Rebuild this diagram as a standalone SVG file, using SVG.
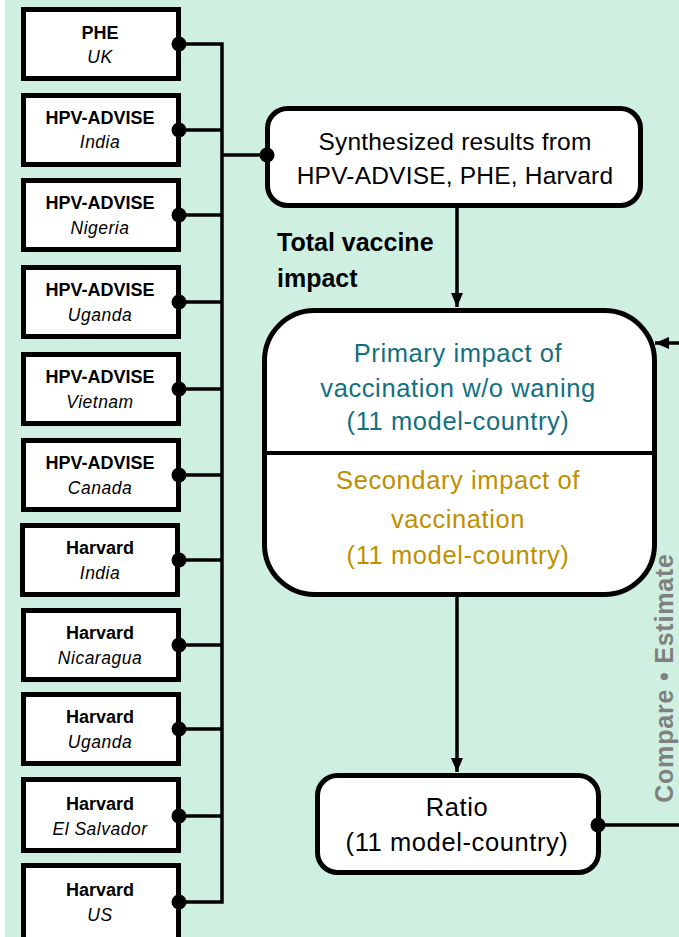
<svg xmlns="http://www.w3.org/2000/svg" width="679" height="937" viewBox="0 0 679 937">
<defs>
<style>
.bg{fill:#CFF0E0}
.src{fill:#fff;stroke:#000;stroke-width:5}
.node{fill:#fff;stroke:#000;stroke-width:5}
.con{fill:none;stroke:#000;stroke-width:3.5}
.dot{fill:#000}
.b{font-family:"Liberation Sans",Arial,sans-serif;font-weight:bold;font-size:18px;text-anchor:middle;fill:#000}
.i{font-family:"Liberation Sans",Arial,sans-serif;font-style:italic;font-size:17.5px;letter-spacing:0.5px;text-anchor:middle;fill:#000}
.t{font-family:"Liberation Sans",Arial,sans-serif;font-size:24.5px;letter-spacing:0.2px;text-anchor:middle;fill:#000}
.w{font-size:25.5px;letter-spacing:0.6px}
.teal{fill:#13707F}
.gold{fill:#BF8F00}
.lab{font-family:"Liberation Sans",Arial,sans-serif;font-weight:bold;font-size:25px;fill:#000}
.side{font-family:"Liberation Sans",Arial,sans-serif;font-weight:bold;font-size:25px;letter-spacing:0.8px;fill:#808080;text-anchor:middle}
</style>
<marker id="ah" markerWidth="14" markerHeight="12" refX="14" refY="6" orient="auto" markerUnits="userSpaceOnUse">
<path d="M0,0 L14,6 L0,12 Z" fill="#000"/>
</marker>
</defs>
<rect class="bg" x="5" y="0" width="674" height="937"/>

<g id="n-phe-uk"><rect class="src" x="23.5" y="9.5" width="155" height="69"/><text class="b" x="100" y="39">PHE</text><text class="i" x="100" y="63">UK</text></g>
<g id="n-hpv-india"><rect class="src" x="23.5" y="95.5" width="155" height="69"/><text class="b" x="100" y="124">HPV-ADVISE</text><text class="i" x="100" y="148">India</text></g>
<g id="n-hpv-nigeria"><rect class="src" x="23.5" y="180.5" width="155" height="69"/><text class="b" x="100" y="209">HPV-ADVISE</text><text class="i" x="100" y="234">Nigeria</text></g>
<g id="n-hpv-uganda"><rect class="src" x="23.5" y="267.5" width="155" height="69"/><text class="b" x="100" y="296">HPV-ADVISE</text><text class="i" x="100" y="321">Uganda</text></g>
<g id="n-hpv-vietnam"><rect class="src" x="23.5" y="354.5" width="155" height="69"/><text class="b" x="100" y="383">HPV-ADVISE</text><text class="i" x="100" y="408">Vietnam</text></g>
<g id="n-hpv-canada"><rect class="src" x="23.5" y="440.5" width="155" height="69"/><text class="b" x="100" y="469">HPV-ADVISE</text><text class="i" x="100" y="494">Canada</text></g>
<g id="n-harvard-india"><rect class="src" x="22.5" y="525.5" width="155" height="69"/><text class="b" x="100" y="554">Harvard</text><text class="i" x="100" y="579">India</text></g>
<g id="n-harvard-nicaragua"><rect class="src" x="23.5" y="610.5" width="155" height="69"/><text class="b" x="100" y="639">Harvard</text><text class="i" x="100" y="664">Nicaragua</text></g>
<g id="n-harvard-uganda"><rect class="src" x="23.5" y="694.5" width="155" height="69"/><text class="b" x="100" y="723">Harvard</text><text class="i" x="100" y="748">Uganda</text></g>
<g id="n-harvard-elsalvador"><rect class="src" x="23.5" y="779.5" width="155" height="71"/><text class="b" x="100" y="810">Harvard</text><text class="i" x="100" y="835">El Salvador</text></g>
<g id="n-harvard-us"><rect class="src" x="23.5" y="865.5" width="155" height="75"/><text class="b" x="100" y="896">Harvard</text><text class="i" x="100" y="921">US</text></g>

<g id="n-synth"><rect class="node" x="267.5" y="108.5" width="373" height="97" rx="20"/><text class="t" x="455" y="150">Synthesized results from</text><text class="t" x="455" y="184">HPV-ADVISE, PHE, Harvard</text></g>

<g id="l-total"><text class="lab" x="277" y="251">Total vaccine</text><text class="lab" x="277" y="287">impact</text></g>

<g id="n-impact"><rect class="node" x="264.5" y="310.5" width="390" height="284" rx="50"/><line x1="264.5" y1="453" x2="654.5" y2="453" stroke="#000" stroke-width="4"/>
<text class="t w teal" x="458" y="362">Primary impact of</text><text class="t w teal" x="458" y="397">vaccination w/o waning</text><text class="t w teal" x="458" y="430">(11 model-country)</text>
<text class="t w gold" x="458" y="489">Secondary impact of</text><text class="t w gold" x="458" y="528">vaccination</text><text class="t w gold" x="458" y="564">(11 model-country)</text></g>

<g id="n-ratio"><rect class="node" x="317.5" y="775.5" width="281" height="97" rx="20"/><text class="t w" x="457" y="816">Ratio</text><text class="t w" x="457" y="851">(11 model-country)</text></g>

<g id="l-side"><text class="side" transform="translate(673,678) rotate(-90)">Compare • Estimate</text></g>

<g id="connectors">
<path class="con" d="M179,44 H222 V902 H179"/>
<path class="con" d="M179,130 H222 M179,215 H222 M179,302 H222 M179,389 H222 M179,475 H222 M179,560 H222 M179,645 H222 M179,729 H222 M179,816 H222"/>
<path class="con" d="M222,155 H267"/>
<path class="con" d="M457,208 V307" marker-end="url(#ah)"/>
<path class="con" d="M457,597 V772" marker-end="url(#ah)"/>
<path class="con" d="M598,825 H679"/>
<path class="con" d="M679,343 H655" marker-end="url(#ah)"/>
<circle class="dot" cx="179" cy="44" r="7.5"/>
<circle class="dot" cx="179" cy="130" r="7.5"/>
<circle class="dot" cx="179" cy="215" r="7.5"/>
<circle class="dot" cx="179" cy="302" r="7.5"/>
<circle class="dot" cx="179" cy="389" r="7.5"/>
<circle class="dot" cx="179" cy="475" r="7.5"/>
<circle class="dot" cx="179" cy="560" r="7.5"/>
<circle class="dot" cx="179" cy="645" r="7.5"/>
<circle class="dot" cx="179" cy="729" r="7.5"/>
<circle class="dot" cx="179" cy="816" r="7.5"/>
<circle class="dot" cx="179" cy="902" r="7.5"/>
<circle class="dot" cx="267" cy="155" r="7.5"/>
<circle class="dot" cx="598" cy="825" r="7.5"/>
</g>
</svg>
